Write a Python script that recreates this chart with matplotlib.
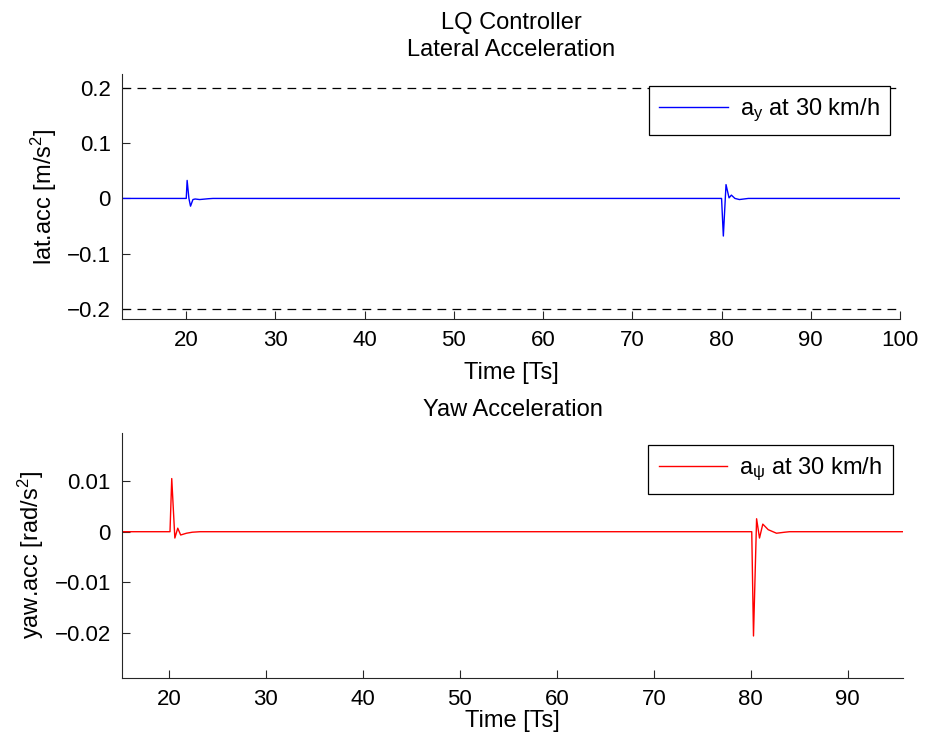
import matplotlib
matplotlib.use("Agg")
import matplotlib.pyplot as plt

plt.rcParams['font.family'] = ['Liberation Sans', 'DejaVu Sans']
plt.rcParams['mathtext.fontset'] = 'custom'
plt.rcParams['mathtext.rm'] = 'Liberation Sans'
plt.rcParams['mathtext.it'] = 'Liberation Sans'
plt.rcParams['mathtext.bf'] = 'Liberation Sans:bold'

# Lateral acceleration (time in Ts, value in m/s^2)
t_lat = [12.8, 20.0, 20.1, 20.3, 20.48, 20.75, 21.0, 21.5, 22.5, 23.0, 80.0, 80.2, 80.5,
         80.84, 81.1, 81.5, 82.0, 83.0, 100.0]
a_lat = [0.0, 0.0, 0.0326, 0.0, -0.014, -0.002, -0.001, -0.002, -0.0005, 0.0, 0.0, -0.068, 0.025,
         0.001, 0.006, 0.0, -0.002, 0.0, 0.0]

# Yaw acceleration (time in Ts, value in rad/s^2)
t_yaw = [15.0, 20.1, 20.28, 20.6, 20.9, 21.2, 21.8, 22.4, 23.2, 80.1, 80.28, 80.6,
         80.9, 81.24, 81.8, 82.65, 83.5, 84.0, 95.7]
a_yaw = [0.0, 0.0, 0.0105, -0.00125, 0.0007, -0.00065, -0.0003, -0.0001, 0.0, 0.0, -0.0206, 0.00256,
         -0.00125, 0.0015, 0.0004, -0.0003, -0.0001, 0.0, 0.0]

lat_limit = [0.2, -0.2]

fig = plt.figure(figsize=(9.25, 7.46), dpi=100)
ax1 = fig.add_axes([122/925, 1-319/746, 778/925, 245/746])
ax2 = fig.add_axes([122/925, 1-678/746, 781/925, 245/746])

fs = 17
tfs = 16

ax1.plot(t_lat, a_lat, color='#0000ff', lw=1.0, label=r'a$_{\mathrm{y}}$ at 30 km/h')
for v in lat_limit:
    ax1.axhline(v, color='black', lw=0.9, ls=(0, (7, 5)))
ax1.set_xlim(12.8, 100.0)
ax1.set_ylim(-0.218, 0.225)
ax1.set_xticks([20, 30, 40, 50, 60, 70, 80, 90, 100])
ax1.set_yticks([-0.2, -0.1, 0, 0.1, 0.2])
ax1.set_yticklabels(['\u22120.2', '\u22120.1', '0', '0.1', '0.2'])
ax1.set_xlabel('Time [Ts]', fontsize=fs, labelpad=8)
ax1.set_ylabel(r'lat.acc [m/s$^{2}$]', fontsize=fs, labelpad=6)
ax1.set_title('LQ Controller\nLateral Acceleration', fontsize=fs, pad=13, linespacing=1.3)

ax2.plot(t_yaw, a_yaw, color='#ff0000', lw=1.0, label=r'a$_{\mathrm{\psi}}$ at 30 km/h')
ax2.set_xlim(15.15, 95.7)
ax2.set_ylim(-0.0289, 0.0195)
ax2.set_xticks([20, 30, 40, 50, 60, 70, 80, 90])
ax2.set_yticks([-0.02, -0.01, 0, 0.01])
ax2.set_yticklabels(['\u22120.02', '\u22120.01', '0', '0.01'])
ax2.set_xlabel('Time [Ts]', fontsize=fs, labelpad=0)
ax2.set_ylabel(r'yaw.acc [rad/s$^{2}$]', fontsize=fs, labelpad=6)
ax2.set_title('Yaw Acceleration', fontsize=fs, pad=12)

for ax in (ax1, ax2):
    for s in ('top', 'right'):
        ax.spines[s].set_visible(False)
    for s in ('left', 'bottom'):
        ax.spines[s].set_color('#262626')
        ax.spines[s].set_linewidth(0.8)
    ax.tick_params(direction='in', length=6, width=0.8, labelsize=tfs, colors='#262626',
                   labelcolor='black', pad=8)
    leg = ax.legend(loc='upper right', bbox_to_anchor=(0.987, 0.951), fontsize=fs,
                    frameon=True, fancybox=False, framealpha=1, edgecolor='black',
                    handlelength=2.9, borderpad=0.45, handletextpad=0.5, borderaxespad=0)
    leg.get_frame().set_linewidth(0.9)

fig.savefig('out.png', dpi=100)
